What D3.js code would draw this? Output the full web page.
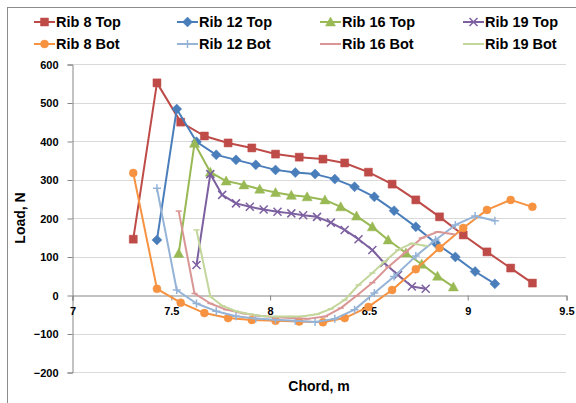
<!DOCTYPE html>
<html>
<head>
<meta charset="utf-8">
<script src="https://cdn.jsdelivr.net/npm/d3@7"></script>
<style>
  body { margin: 0; background: #fff; }
  svg { display: block; font-family: "Liberation Sans", Arial, sans-serif; }
  .tick text { font-weight: bold; font-size: 11px; fill: #000; }
</style>
</head>
<body>
<script>
// chord positions per rib (m)
var rib8X  = [7.31, 7.43, 7.55, 7.67, 7.79, 7.91, 8.03, 8.15, 8.27, 8.38, 8.50, 8.62, 8.74, 8.86, 8.98, 9.10, 9.22, 9.33];
var rib12X = [7.43, 7.53, 7.63, 7.73, 7.83, 7.93, 8.03, 8.13, 8.23, 8.33, 8.43, 8.53, 8.63, 8.74, 8.84, 8.94, 9.04, 9.14];
var rib16X = [7.54, 7.62, 7.70, 7.78, 7.87, 7.95, 8.03, 8.11, 8.19, 8.28, 8.36, 8.44, 8.52, 8.60, 8.69, 8.77, 8.85, 8.93];
var rib19X = [7.63, 7.70, 7.76, 7.83, 7.90, 7.97, 8.04, 8.11, 8.17, 8.24, 8.31, 8.38, 8.45, 8.52, 8.58, 8.65, 8.72, 8.79];

// loads (N)
var rib8Top  = [145, 551, 449, 413, 395, 382, 366, 358, 353, 343, 319, 288, 247, 203, 156, 112, 70, 31];
var rib12Top = [143, 483, 398, 364, 351, 338, 325, 318, 314, 301, 281, 255, 219, 177, 135, 99, 61, 29];
var rib16Top = [108, 394, 319, 296, 286, 275, 266, 259, 255, 247, 229, 205, 177, 143, 109, 80, 49, 21];
var rib19Top = [78, 314, 260, 238, 229, 222, 216, 212, 207, 203, 188, 169, 145, 117, 83, 52, 22, 16];
var rib8Bot  = [317, 16, -20, -47, -60, -65, -67, -69, -71, -60, -31, 13, 67, 122, 174, 221, 247, 229];
var rib12Bot = [277, 13, -22, -42, -55, -61, -64, -67, -70, -62, -38, 5, 48, 101, 143, 182, 205, 193];
var rib16Bot = [218, 4, -22, -38, -48, -54, -58, -60, -62, -56, -34, -2, 32, 73, 112, 148, 164, 158];
var rib19Bot = [169, -4, -28, -42, -50, -55, -56, -56, -55, -50, -36, -13, 26, 57, 86, 117, 134, 128];

var xTicks = [7, 7.5, 8, 8.5, 9, 9.5];
var yTicks = [-200, -100, 0, 100, 200, 300, 400, 500, 600];

var series = [
    { name: "Rib 8 Top",  xs: rib8X,  ys: rib8Top,  color: "#BE4B48", marker: "square" },
    { name: "Rib 12 Top", xs: rib12X, ys: rib12Top, color: "#4A7EBB", marker: "diamond" },
    { name: "Rib 16 Top", xs: rib16X, ys: rib16Top, color: "#98B954", marker: "triangle" },
    { name: "Rib 19 Top", xs: rib19X, ys: rib19Top, color: "#7D60A0", marker: "x" },
    { name: "Rib 8 Bot",  xs: rib8X,  ys: rib8Bot,  color: "#F69240", marker: "circle" },
    { name: "Rib 12 Bot", xs: rib12X, ys: rib12Bot, color: "#95B3D7", marker: "plus" },
    { name: "Rib 16 Bot", xs: rib16X, ys: rib16Bot, color: "#D99694", marker: "dash" },
    { name: "Rib 19 Bot", xs: rib19X, ys: rib19Bot, color: "#C3D69B", marker: "dash" }
];

var width = 576, height = 403;
var svg = d3.select("body").append("svg")
    .attr("width", width)
    .attr("height", height);

// chart border
svg.append("rect")
    .attr("x", 7.5).attr("y", 7.5)
    .attr("width", 600).attr("height", 420)
    .attr("fill", "none")
    .attr("stroke", "#8c8c8c")
    .attr("stroke-width", 1);

var x = d3.scaleLinear().domain([7, 9.5]).range([72, 566]);
var y = d3.scaleLinear().domain([-200, 600]).range([372, 64]);

// gridlines
svg.append("g").selectAll("line")
    .data(yTicks.filter(function (d) { return d !== 0; }))
    .enter().append("line")
    .attr("x1", x(7)).attr("x2", x(9.5))
    .attr("y1", function (d) { return Math.round(y(d)) + 0.5; })
    .attr("y2", function (d) { return Math.round(y(d)) + 0.5; })
    .attr("stroke", "#d9d9d9");

// y axis
var yAxis = svg.append("g")
    .attr("transform", "translate(" + (Math.round(x(7)) + 0.5) + ",0.5)")
    .call(d3.axisLeft(y).tickValues(yTicks).tickSize(5).tickPadding(9));
yAxis.select(".domain").attr("stroke", "#868686");
yAxis.selectAll(".tick line").attr("stroke", "#868686");

// x axis sits on the zero line
var xAxis = svg.append("g")
    .attr("transform", "translate(0.5," + (Math.round(y(0)) + 0.5) + ")")
    .call(d3.axisBottom(x).tickValues(xTicks).tickFormat(d3.format("")).tickSize(5).tickPadding(7));
xAxis.select(".domain").attr("stroke", "#868686");
xAxis.selectAll(".tick line").attr("stroke", "#868686");

// axis titles
svg.append("text")
    .attr("transform", "translate(25," + y(200) + ") rotate(-90)")
    .attr("text-anchor", "middle")
    .attr("font-weight", "bold")
    .attr("font-size", 14)
    .text("Load, N");

svg.append("text")
    .attr("x", (x(7) + x(9.5)) / 2)
    .attr("y", 391)
    .attr("text-anchor", "middle")
    .attr("font-weight", "bold")
    .attr("font-size", 14)
    .text("Chord, m");

function markerPath(type) {
    switch (type) {
        case "square": return "M-4,-4h8v8h-8z";
        case "diamond": return "M0,-5L5,0L0,5L-5,0z";
        case "triangle": return "M0,-5L5,4L-5,4z";
        case "circle": return d3.symbol(d3.symbolCircle, 50)();
        case "x": return "M-4,-4L4,4M-4,4L4,-4";
        case "plus": return "M-4,0H4M0,-4V4";
        case "dash": return "M-3,0H3";
    }
}

function isStroke(type) {
    return type === "x" || type === "plus" || type === "dash";
}

var line = d3.line()
    .x(function (d) { return x(d[0]); })
    .y(function (d) { return y(d[1]); });

series.forEach(function (s) {
    var pts = s.xs.map(function (v, i) { return [v, s.ys[i]]; });
    var g = svg.append("g");
    g.append("path")
        .datum(pts)
        .attr("d", line)
        .attr("fill", "none")
        .attr("stroke", s.color)
        .attr("stroke-width", 2)
        .attr("stroke-linejoin", "round");
    g.selectAll("path.mk")
        .data(pts)
        .enter().append("path")
        .attr("class", "mk")
        .attr("transform", function (d) { return "translate(" + x(d[0]) + "," + y(d[1]) + ")"; })
        .attr("d", markerPath(s.marker))
        .attr("fill", isStroke(s.marker) ? "none" : s.color)
        .attr("stroke", s.color)
        .attr("stroke-width", isStroke(s.marker) ? 1.5 : 0.5);
});

// legend: 2 rows x 4 columns
var legend = svg.append("g");
var item = legend.selectAll("g")
    .data(series)
    .enter().append("g")
    .attr("transform", function (d, i) {
        return "translate(" + (34 + (i % 4) * 143) + "," + (22 + Math.floor(i / 4) * 22) + ")";
    });
item.append("line")
    .attr("x1", 0).attr("x2", 21)
    .attr("stroke", function (d) { return d.color; })
    .attr("stroke-width", 2);
item.append("path")
    .attr("transform", "translate(10.5,0)")
    .attr("d", function (d) { return markerPath(d.marker); })
    .attr("fill", function (d) { return isStroke(d.marker) ? "none" : d.color; })
    .attr("stroke", function (d) { return d.color; })
    .attr("stroke-width", function (d) { return isStroke(d.marker) ? 1.5 : 0.5; });
item.append("text")
    .attr("x", 22)
    .attr("dy", "0.36em")
    .attr("font-weight", "bold")
    .attr("font-size", 14.5)
    .text(function (d) { return d.name; });
</script>
</body>
</html>
